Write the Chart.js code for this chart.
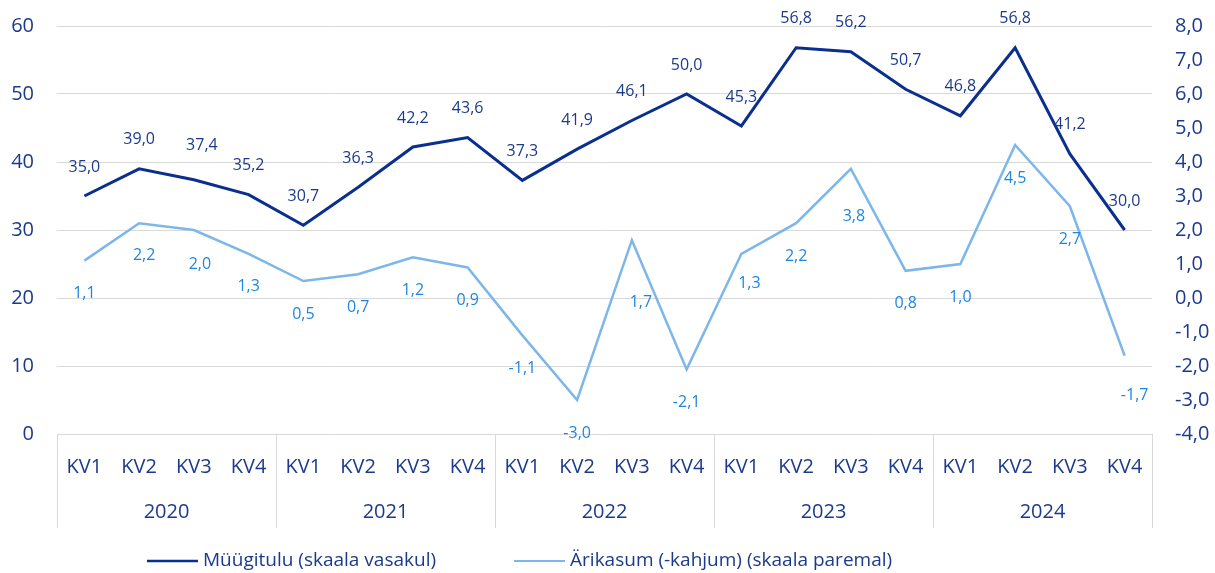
<!DOCTYPE html>
<html>
<head>
<meta charset="utf-8">
<script src="https://cdn.jsdelivr.net/npm/chart.js@4.4.1/dist/chart.umd.min.js"></script>
<style>
    body { margin: 0; background: #fff; }
    #wrap { width: 1215px; height: 573px; }
</style>
</head>
<body>
<div id="wrap"><canvas id="chart" width="1215" height="573"></canvas></div>
<script>
// Data
const years = ['2020', '2021', '2022', '2023', '2024'];
const quarters = ['KV1', 'KV2', 'KV3', 'KV4'];
const myygitulu = [35.0, 39.0, 37.4, 35.2, 30.7, 36.3, 42.2, 43.6, 37.3, 41.9, 46.1, 50.0, 45.3, 56.8, 56.2, 50.7, 46.8, 56.8, 41.2, 30.0];
const arikasum = [1.1, 2.2, 2.0, 1.3, 0.5, 0.7, 1.2, 0.9, -1.1, -3.0, 1.7, -2.1, 1.3, 2.2, 3.8, 0.8, 1.0, 4.5, 2.7, -1.7];
const seriesNames = ['Müügitulu (skaala vasakul)', 'Ärikasum (-kahjum) (skaala paremal)'];

// Colours and fonts
const navy = '#1c3a8c';
const darkLine = '#0b2f8f';
const lightLine = '#7db7ea';
const lightText = '#1f86e0';
const gridColor = '#d9d9d9';
const fontFamily = '"Open Sans", "Noto Sans", sans-serif';

// Category labels: every quarter of every year
const labels = [];
years.forEach(y => quarters.forEach(q => labels.push(q)));

// Data label placement (label offsets from point, px)
const labelShift = [
    { dx: 0, dy: -29, nudge: { 2: [8, -34] } },
    { dx: 0, dy: 33, nudge: { 1: [5, 32], 2: [6, 34], 10: [9, 62], 12: [8, 30], 14: [3, 48], 19: [10, 40] } }
];

const fmt1 = v => v.toFixed(1).replace('.', ',');

// Draws value labels, year row, separators and the legend
const extrasPlugin = {
    id: 'extras',
    afterDatasetsDraw(chart) {
        const ctx = chart.ctx;
        ctx.save();
        ctx.font = '16px ' + fontFamily;
        ctx.textAlign = 'center';
        ctx.textBaseline = 'middle';
        chart.data.datasets.forEach((ds, di) => {
            const meta = chart.getDatasetMeta(di);
            const conf = labelShift[di];
            ctx.fillStyle = di === 0 ? navy : lightText;
            meta.data.forEach((pt, i) => {
                const n = conf.nudge[i] || [conf.dx, conf.dy];
                ctx.fillText(fmt1(ds.data[i]), pt.x + n[0], pt.y + n[1]);
            });
        });
        ctx.restore();
    },
    afterDraw(chart) {
        const ctx = chart.ctx;
        const x = chart.scales.x;
        const area = chart.chartArea;
        const half = (x.getPixelForValue(1) - x.getPixelForValue(0)) / 2;
        ctx.save();
        // year separators
        ctx.strokeStyle = gridColor;
        ctx.lineWidth = 1;
        for (let k = 0; k <= years.length; k++) {
            const idx = Math.min(k * 4, labels.length - 1);
            const px = Math.round(k * 4 < labels.length ? x.getPixelForValue(idx) - half : x.getPixelForValue(idx) + half) + 0.5;
            ctx.beginPath();
            ctx.moveTo(px, area.bottom);
            ctx.lineTo(px, area.bottom + 94);
            ctx.stroke();
        }
        // year labels
        ctx.fillStyle = navy;
        ctx.font = '20px ' + fontFamily;
        ctx.textAlign = 'center';
        ctx.textBaseline = 'middle';
        years.forEach((y, k) => {
            const cx = (x.getPixelForValue(k * 4) + x.getPixelForValue(k * 4 + 3)) / 2;
            ctx.fillText(y, cx, area.bottom + 78);
        });
        // legend
        ctx.font = '19px ' + fontFamily;
        ctx.textAlign = 'left';
        const ly = 561;
        let lx = 147;
        const colors = [darkLine, lightLine];
        seriesNames.forEach((name, i) => {
            ctx.strokeStyle = colors[i];
            ctx.lineWidth = i === 0 ? 2.5 : 2;
            ctx.beginPath();
            ctx.moveTo(lx, ly);
            ctx.lineTo(lx + 51, ly);
            ctx.stroke();
            ctx.fillStyle = navy;
            ctx.fillText(name, lx + 56, ly);
            lx += 56 + ctx.measureText(name).width + 78;
        });
        ctx.restore();
    }
};

// y axes: fixed width, no extra vertical padding from the tick labels
function fitY(width) {
    return function (scale) {
        scale.width = width;
        scale.paddingTop = 0;
        scale.paddingBottom = 0;
    };
}

const chart = new Chart(document.getElementById('chart').getContext('2d'), {
    type: 'line',
    data: {
        labels: labels,
        datasets: [
            {
                label: seriesNames[0],
                data: myygitulu,
                yAxisID: 'y',
                borderColor: darkLine,
                borderWidth: 3,
                pointRadius: 0,
                tension: 0
            },
            {
                label: seriesNames[1],
                data: arikasum,
                yAxisID: 'y1',
                borderColor: lightLine,
                borderWidth: 2.5,
                pointRadius: 0,
                tension: 0
            }
        ]
    },
    options: {
        responsive: false,
        animation: false,
        layout: { padding: { top: 26, bottom: 39, left: 0, right: 0 } },
        plugins: {
            legend: { display: false },
            tooltip: { enabled: false }
        },
        scales: {
            x: {
                offset: true,
                grid: { display: false, drawTicks: false },
                border: { display: false },
                ticks: {
                    color: navy,
                    font: { family: fontFamily, size: 20 },
                    padding: 21,
                    maxRotation: 0,
                    autoSkip: false
                },
                afterFit(scale) { scale.height = 100; }
            },
            y: {
                position: 'left',
                min: 0,
                max: 60,
                grid: { color: gridColor, drawTicks: false },
                border: { display: false },
                ticks: {
                    stepSize: 10,
                    color: navy,
                    padding: 23,
                    font: { family: fontFamily, size: 20 }
                },
                afterFit: fitY(57)
            },
            y1: {
                position: 'right',
                min: -4,
                max: 8,
                grid: { display: false, drawTicks: false },
                border: { display: false },
                ticks: {
                    stepSize: 1,
                    color: navy,
                    padding: 23,
                    font: { family: fontFamily, size: 20 },
                    callback: v => fmt1(v)
                },
                afterFit: fitY(63)
            }
        }
    },
    plugins: [extrasPlugin]
});
</script>
</body>
</html>
